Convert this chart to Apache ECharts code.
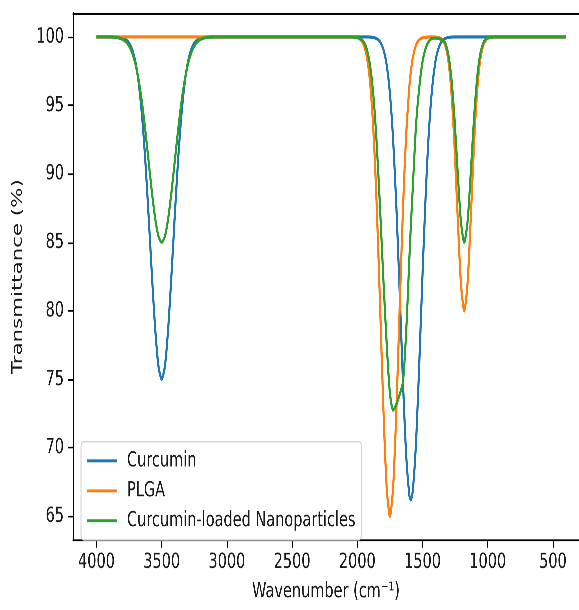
<!DOCTYPE html>
<html>
<head>
<meta charset="utf-8">
<script src="https://cdn.jsdelivr.net/npm/echarts/dist/echarts.min.js"></script>
<style>
  html, body { margin: 0; padding: 0; background: #fff; }
  #wrap { width: 579px; height: 610px; overflow: hidden; position: relative; }
  #chart { width: 579px; height: 415px; transform: scaleY(1.4699); transform-origin: 0 0; }
</style>
</head>
<body>
<div id="wrap"><div id="chart"></div></div>
<script>
// Wavenumber sampling points (cm^-1)
const wavenumbers = [4000, 3900, 3850, 3825, 3800, 3775, 3750, 3725, 3700, 3675, 3650, 3625, 3600, 3575, 3550, 3525, 3500, 3475, 3450, 3425, 3400, 3375, 3350, 3325, 3300, 3275, 3250, 3225, 3200, 3175, 3150, 3100, 2600, 2100, 2050,
  2000, 1975, 1950, 1925, 1900, 1875, 1850, 1825, 1800, 1775, 1750, 1725, 1700, 1675, 1650, 1625, 1600, 1590, 1575, 1550, 1525, 1500, 1475, 1450, 1425, 1400,
  1380, 1355, 1330, 1305, 1280, 1255, 1230, 1205, 1180, 1155, 1130, 1105, 1080, 1055, 1030, 1005, 980, 955, 900, 700, 400];

const curcumin = [100, 100, 99.99, 99.97, 99.93, 99.81, 99.56, 99.05, 98.11, 96.54, 94.15, 90.89, 86.89, 82.62, 78.73, 75.99, 75.00, 75.99, 78.73, 82.62, 86.89, 90.89, 94.15, 96.54, 98.11, 99.05, 99.56, 99.81, 99.93, 99.97, 99.99, 100, 100, 100, 100,
  100, 100, 100, 100, 99.99, 99.96, 99.87, 99.64, 99.10, 97.97, 95.88, 92.44, 87.50, 81.34, 74.86, 69.44, 66.48, 66.20, 66.82, 70.36, 76.11, 82.63, 88.60, 93.25, 96.39, 98.26,
  99.10, 99.64, 99.87, 99.96, 99.99, 100, 100, 100, 100, 100, 100, 100, 100, 100, 100, 100, 100, 100, 100, 100, 100];

const plga = [100, 100, 100, 100, 100, 100, 100, 100, 100, 100, 100, 100, 100, 100, 100, 100, 100, 100, 100, 100, 100, 100, 100, 100, 100, 100, 100, 100, 100, 100, 100, 100, 100, 100, 100,
  99.94, 99.80, 99.41, 98.46, 96.48, 92.89, 87.39, 80.28, 72.88, 67.16, 65.00, 67.16, 72.88, 80.28, 87.39, 92.89, 96.48, 97.43, 98.46, 99.41, 99.80, 99.94, 99.98, 100, 100, 99.99,
  99.97, 99.87, 99.51, 98.49, 96.17, 92.11, 86.77, 81.96, 80.00, 81.96, 86.77, 92.11, 96.17, 98.49, 99.51, 99.87, 99.97, 100, 100, 100, 100];

const nanoparticles = [100, 100, 99.97, 99.92, 99.83, 99.66, 99.34, 98.81, 97.97, 96.76, 95.13, 93.13, 90.90, 88.68, 86.76, 85.46, 85.00, 85.46, 86.76, 88.68, 90.90, 93.13, 95.13, 96.76, 97.97, 98.81, 99.34, 99.66, 99.83, 99.92, 99.97, 100, 100, 100, 100,
  99.96, 99.87, 99.63, 99.03, 97.78, 95.52, 92.01, 87.40, 82.29, 77.65, 74.00, 72.75, 73.20, 73.90, 74.80, 78.50, 84.00, 86.10, 88.90, 93.50, 96.30, 98.20, 99.20, 99.70, 99.90, 99.92,
  99.90, 99.80, 99.64, 98.87, 97.13, 94.08, 90.08, 86.47, 85.00, 86.47, 90.08, 94.08, 97.13, 98.87, 99.64, 99.91, 99.98, 100, 100, 100, 100];

const seriesNames = ['Curcumin', 'PLGA', 'Curcumin-loaded Nanoparticles'];
const xTicks = [4000, 3500, 3000, 2500, 2000, 1500, 1000, 500];
const yTicks = [65, 70, 75, 80, 85, 90, 95, 100];

const colors = ['#1f77b4', '#ff7f0e', '#2ca02c'];
const txt = '#1a1a1a';
const font = 'DejaVu Sans';
function pairs(vals) { return wavenumbers.map((w, i) => [w, vals[i]]); }

const chart = echarts.init(document.getElementById('chart'), null, { renderer: 'canvas', devicePixelRatio: 3 });
chart.setOption({
  animation: false,
  backgroundColor: '#fff',
  color: colors,
  textStyle: { fontFamily: font },
  grid: { left: 73, right: 0, top: 8.84, bottom: 40.15, containLabel: false },
  legend: {
    orient: 'vertical', left: 81, top: 300.5, data: seriesNames, icon: 'rect',
    itemWidth: 30, itemHeight: 2, itemGap: 5.4, padding: [5.5, 6, 5.5, 6],
    backgroundColor: '#fff', borderColor: '#d6d6d6', borderWidth: 1, borderRadius: 3,
    textStyle: { fontSize: 14.5, color: txt, fontFamily: font, lineHeight: 15, padding: [0, 0, 0, 5] }
  },
  xAxis: [{
    type: 'value', inverse: true, min: 300, max: 4180, position: 'bottom', splitLine: { show: false },
    axisLine: { show: true, lineStyle: { color: '#000', width: 1.1 } },
    axisTick: { show: true, length: 5, customValues: xTicks, lineStyle: { color: '#000', width: 1.1 } },
    axisLabel: { customValues: xTicks, fontSize: 14.5, color: txt, margin: 7.5, fontFamily: font, formatter: v => String(v) },
    name: 'Wavenumber (cm\u207B\u00B9)', nameLocation: 'middle', nameGap: 27,
    nameTextStyle: { fontSize: 14.5, color: txt, fontFamily: font }
  }, {
    type: 'value', inverse: true, min: 300, max: 4180, position: 'top', splitLine: { show: false },
    axisLine: { show: true, lineStyle: { color: '#000', width: 1.1 } }, axisTick: { show: false }, axisLabel: { show: false }
  }],
  yAxis: {
    type: 'value', min: 63.25, max: 101.75, splitLine: { show: false },
    axisLine: { show: true, lineStyle: { color: '#000', width: 1.1 } },
    axisTick: { show: true, length: 5, customValues: yTicks, lineStyle: { color: '#000', width: 1.1 } },
    axisLabel: { customValues: yTicks, fontSize: 14.5, color: txt, margin: 9, fontFamily: font },
    name: 'Transmittance (%)', nameLocation: 'middle', nameGap: 37,
    nameTextStyle: { fontSize: 14.5, color: txt, fontFamily: font }
  },
  series: seriesNames.map((n, i) => ({
    name: n, type: 'line', data: pairs([curcumin, plga, nanoparticles][i]),
    showSymbol: false, smooth: 0.25, lineStyle: { width: 2.1, color: colors[i] }
  }))
});
</script>
</body>
</html>
